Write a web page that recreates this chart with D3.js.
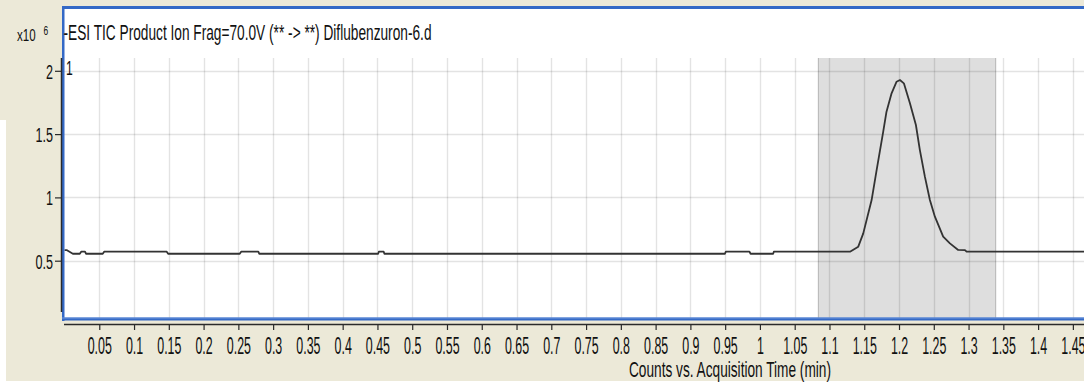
<!DOCTYPE html>
<html>
<head>
<meta charset="utf-8">
<script src="https://cdn.jsdelivr.net/npm/d3@7"></script>
<style>
  html, body { margin: 0; padding: 0; background: #ffffff; }
  svg { display: block; }
  text { font-family: "Liberation Sans", Arial, sans-serif; fill: #111; }
</style>
</head>
<body>
<svg id="chart" width="1084" height="385"></svg>
<script>
// Total ion chromatogram, Diflubenzuron-6.d (counts in units of 10^6)
const titleText = "-ESI TIC Product Ion Frag=70.0V (** -> **) Diflubenzuron-6.d";
const xAxisTitle = "Counts vs. Acquisition Time (min)";
const exponentBase = "x10";
const exponentPower = "6";
const peakMarker = "1";

const acqTime = [0.000, 0.003, 0.012, 0.022, 0.024, 0.0295, 0.031, 0.055, 0.057, 0.147,
  0.149, 0.252, 0.254, 0.2787, 0.280, 0.451, 0.452, 0.459, 0.460, 0.9497,
  0.951, 0.985, 0.9865, 1.019, 1.020, 1.1295, 1.1414, 1.1486, 1.1606, 1.1678,
  1.1773, 1.182, 1.1893, 1.1965, 1.2013, 1.207, 1.2157, 1.2243, 1.230, 1.2372,
  1.2444, 1.2516, 1.2635, 1.2732, 1.2851, 1.2948, 1.2972, 1.466];
const counts = [0.584, 0.584, 0.555, 0.555, 0.571, 0.571, 0.555, 0.555, 0.571, 0.571,
  0.555, 0.555, 0.571, 0.571, 0.555, 0.555, 0.571, 0.571, 0.555, 0.555,
  0.571, 0.571, 0.555, 0.555, 0.571, 0.571, 0.611, 0.716, 0.979, 1.216,
  1.519, 1.677, 1.822, 1.914, 1.927, 1.901, 1.743, 1.572, 1.374, 1.164,
  0.979, 0.848, 0.690, 0.637, 0.585, 0.584, 0.571, 0.571];

// Integration window of the peak
const integStart = 1.084;
const integEnd = 1.339;

const xTickValues = [0.05, 0.1, 0.15, 0.2, 0.25, 0.3, 0.35, 0.4, 0.45, 0.5, 0.55, 0.6, 0.65,
  0.7, 0.75, 0.8, 0.85, 0.9, 0.95, 1, 1.05, 1.1, 1.15, 1.2, 1.25, 1.3, 1.35, 1.4, 1.45];
const xTickLabels = ["0.05", "0.1", "0.15", "0.2", "0.25", "0.3", "0.35", "0.4", "0.45", "0.5",
  "0.55", "0.6", "0.65", "0.7", "0.75", "0.8", "0.85", "0.9", "0.95", "1", "1.05", "1.1",
  "1.15", "1.2", "1.25", "1.3", "1.35", "1.4", "1.45"];
const yTickValues = [0.5, 1, 1.5, 2];
const yTickLabels = ["0.5", "1", "1.5", "2"];

const W = 1084, H = 385;
const svg = d3.select("#chart");

const panelBg = "#ECE9D8";
const frameBlue = "#3469C6";
const axisDark = "#2a2a2a";

const plotLeft = 64, plotTop = 9, plotBottom = 318, gridTop = 58;

const x = d3.scaleLinear().domain([0, 1.466]).range([64.5, 1084]);
const y = d3.scaleLinear().domain([0, 2]).range([324, 70.8]);

// Window background and margins
svg.append("rect").attr("x", 0).attr("y", 0).attr("width", W).attr("height", H).attr("fill", panelBg);
svg.append("rect").attr("x", 0).attr("y", 381).attr("width", W).attr("height", 4).attr("fill", "#ffffff");
svg.append("rect").attr("x", 0).attr("y", 120).attr("width", 6).attr("height", H - 120).attr("fill", "#ffffff");

// Plot area
svg.append("rect").attr("x", plotLeft).attr("y", plotTop)
  .attr("width", W - plotLeft).attr("height", plotBottom - plotTop).attr("fill", "#ffffff");

// Integration shading
svg.append("rect")
  .attr("x", x(integStart)).attr("y", gridTop)
  .attr("width", x(integEnd) - x(integStart)).attr("height", plotBottom - gridTop)
  .attr("fill", "#DEDEDE");
[integStart, integEnd].forEach(t => {
  svg.append("line").attr("x1", x(t)).attr("x2", x(t)).attr("y1", gridTop).attr("y2", plotBottom)
    .attr("stroke", "#b4b4b4").attr("stroke-width", 1);
});

// Grid
const grid = svg.append("g").attr("stroke", "rgba(0,0,0,0.11)").attr("stroke-width", 1.4);
grid.selectAll("line.v").data(xTickValues).join("line").attr("class", "v")
  .attr("x1", d => Math.round(x(d)) + 0.5).attr("x2", d => Math.round(x(d)) + 0.5)
  .attr("y1", gridTop).attr("y2", plotBottom);
grid.selectAll("line.h").data(yTickValues).join("line").attr("class", "h")
  .attr("x1", plotLeft).attr("x2", W)
  .attr("y1", d => Math.round(y(d)) + 0.5).attr("y2", d => Math.round(y(d)) + 0.5);

// Trace
const pts = acqTime.map((t, i) => [t, counts[i]]);
svg.append("clipPath").attr("id", "plotClip").append("rect")
  .attr("x", plotLeft).attr("y", plotTop).attr("width", W - plotLeft).attr("height", plotBottom - plotTop);
svg.append("path")
  .datum(pts)
  .attr("clip-path", "url(#plotClip)")
  .attr("fill", "none")
  .attr("stroke", "#333333")
  .attr("stroke-width", 1.8)
  .attr("stroke-linejoin", "round")
  .attr("d", d3.line().x(d => x(d[0])).y(d => y(d[1])));

// Frame (blue border)
svg.append("rect").attr("x", 62).attr("y", 6).attr("width", W - 62).attr("height", 3).attr("fill", frameBlue);
svg.append("rect").attr("x", 62).attr("y", 6).attr("width", 2.5).attr("height", 315).attr("fill", frameBlue);
svg.append("rect").attr("x", 62).attr("y", 317.5).attr("width", W - 62).attr("height", 3).attr("fill", frameBlue);
svg.append("rect").attr("x", 62).attr("y", 317.5).attr("width", W - 62).attr("height", 1).attr("fill", "#6f97dc");

// Axes
const xAxis = d3.axisBottom(x).tickValues(xTickValues).tickSize(6).tickFormat((d, i) => xTickLabels[i]);
const gx = svg.append("g").attr("transform", "translate(0,324)").call(xAxis);
gx.select(".domain").attr("d", `M${plotLeft},0.5H${W}`).attr("stroke", axisDark).attr("stroke-width", 1.5);
gx.selectAll(".tick line").attr("stroke", axisDark).attr("stroke-width", 1.2);
gx.selectAll(".tick text")
  .attr("y", 0).attr("dy", null)
  .attr("transform", "translate(0,30) scale(0.54,1)")
  .attr("font-size", 23).attr("fill", "#111")
  .style("font-family", "'Liberation Sans', Arial, sans-serif");

const yAxis = d3.axisLeft(y).tickValues(yTickValues).tickSize(6).tickFormat((d, i) => yTickLabels[i]);
const gy = svg.append("g").attr("transform", "translate(61,0)").call(yAxis);
gy.select(".domain").attr("d", `M0.5,${gridTop}V312`).attr("stroke", axisDark).attr("stroke-width", 1.5);
gy.selectAll(".tick line").attr("stroke", axisDark).attr("stroke-width", 1.2);
gy.selectAll(".tick text")
  .attr("x", 0).attr("dy", null).attr("y", 0)
  .attr("transform", "translate(-8,7.5) scale(0.6,1)")
  .attr("font-size", 21).attr("fill", "#111")
  .style("font-family", "'Liberation Sans', Arial, sans-serif");

// Texts
function label(str, px, py, size, sx, anchor) {
  return svg.append("text")
    .attr("transform", `translate(${px},${py}) scale(${sx},1)`)
    .attr("font-size", size).attr("text-anchor", anchor || "start").text(str);
}
svg.append("text").attr("x", 63.5).attr("y", 40).attr("font-size", 22)
  .attr("textLength", 368).attr("lengthAdjust", "spacingAndGlyphs").text(titleText);
svg.append("text").attr("x", 629).attr("y", 377).attr("font-size", 22)
  .attr("textLength", 202).attr("lengthAdjust", "spacingAndGlyphs").text(xAxisTitle);
label(exponentBase, 17, 41, 17, 0.68);
label(exponentPower, 43.5, 34.5, 12, 0.7);
label(peakMarker, 66, 75, 21, 0.58);
</script>
</body>
</html>
